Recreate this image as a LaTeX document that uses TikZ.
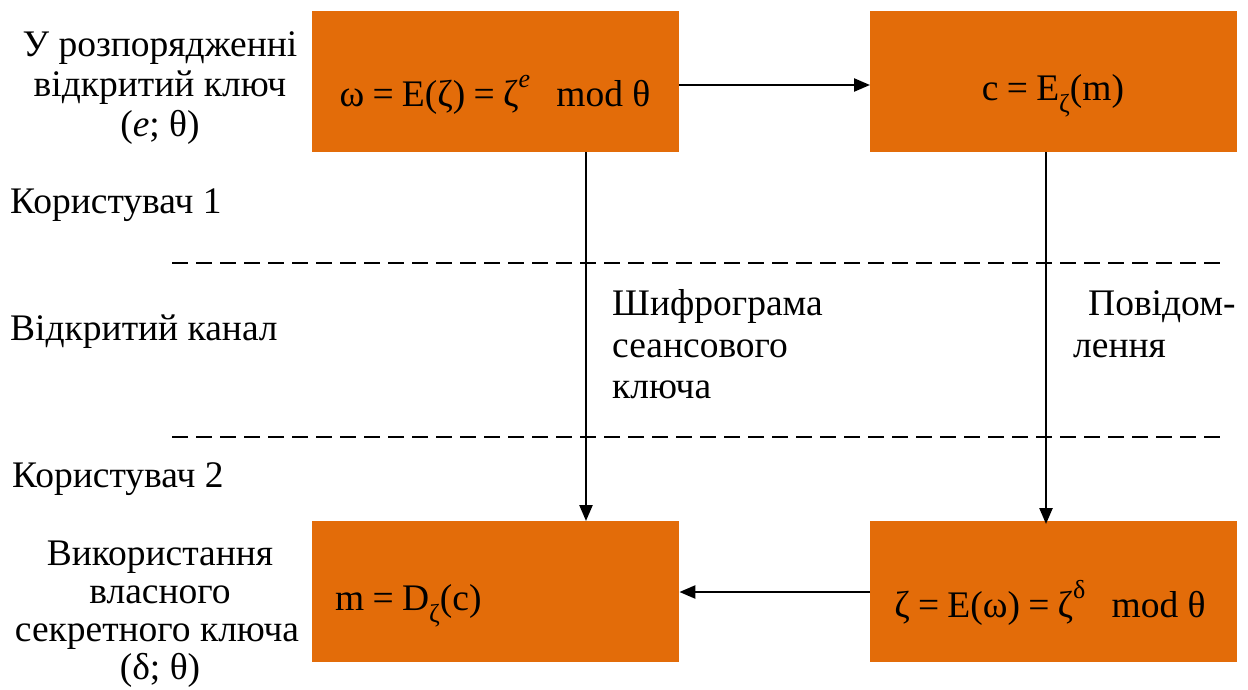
\documentclass[tikz,border=0pt]{standalone}
\usepackage{fontspec}
\setmainfont{Liberation Serif}
\usetikzlibrary{arrows.meta}
\definecolor{boxorange}{HTML}{E36C09}
\newcommand{\supx}[1]{\raisebox{0.5em}{\fontsize{26}{26}\selectfont #1}}
\newcommand{\subx}[1]{\raisebox{-0.32em}{\fontsize{26}{26}\selectfont #1}}
\newcommand{\eqs}{\hspace{0.22em}=\hspace{0.22em}}
\begin{document}
\begin{tikzpicture}[x=1pt,y=-1pt,
  box/.style={fill=boxorange,draw=none,minimum width=367pt,minimum height=141pt,inner sep=0pt,anchor=north west},
  lbl/.style={font=\fontsize{37.5}{41}\selectfont,inner sep=0pt,anchor=base},
  lbll/.style={lbl,anchor=base west},
  conn/.style={line width=2.4pt,-{Triangle[length=16pt,width=13pt]}},
  sep/.style={line width=2pt,dash pattern=on 16pt off 8pt}]
\useasboundingbox (0,0) rectangle (1248,689);
% boxes
\node[box] (b1) at (312,11) {};
\node[box] (b2) at (870,11) {};
\node[box] (b3) at (312,521) {};
\node[box] (b4) at (870,521) {};
% box texts
\node[lbl] (f1) at (495,106) {ω\eqs E(ζ)\eqs ζ\supx{\itshape e}\hspace{0.7em}mod θ};
\node[lbl] (f2) at (1053,100) {c\eqs E\subx{ζ}(m)};
\node[lbll] (f3) at (335,610) {m\eqs D\subx{ζ}(c)};
\node[lbl] (f4) at (1050,617) {ζ\eqs E(ω)\eqs ζ\supx{δ}\hspace{0.7em}mod θ};
% separators
\coordinate (s1a) at (172,263);
\coordinate (s1b) at (1224,263);
\coordinate (s2a) at (172,437);
\coordinate (s2b) at (1224,437);
\draw[sep] (s1a) -- (s1b);
\draw[sep] (s2a) -- (s2b);
% connectors
\draw[conn] (b1.east |- 0,85) -- (b2.west |- 0,85);
\draw[conn] (b4.west |- 0,592) -- (b3.east |- 0,592);
\draw[conn] (b1.south -| 586,0) -- (b3.north -| 586,0);
\draw[conn] (b2.south -| 1046,0) -- ([yshift=-3pt]b4.north -| 1046,0);
% left labels
\node[lbl] (l1) at (160,56) {У розпорядженні};
\node[lbl] (l2) at (160,96) {відкритий ключ};
\node[lbl] (l3) at (160,136) {(\textit{e}; θ)};
\node[lbll] (u1) at (10,213) {Користувач 1};
\node[lbll] (oc) at (10,340) {Відкритий канал};
\node[lbll] (u2) at (12,487) {Користувач 2};
\node[lbl] (k1) at (160,565) {Використання};
\node[lbl] (k2) at (160,603) {власного};
\node[lbl] (k3) at (157,641) {секретного ключа};
\node[lbl] (k4) at (160,679) {(δ; θ)};
% channel labels
\node[lbll] (c1) at (612,315) {Шифрограма};
\node[lbll] (c2) at (612,357) {сеансового};
\node[lbll] (c3) at (612,398) {ключа};
\node[lbll] (p1) at (1088,315) {Повідом-};
\node[lbll] (p2) at (1073,357) {лення};
\end{tikzpicture}
\end{document}
